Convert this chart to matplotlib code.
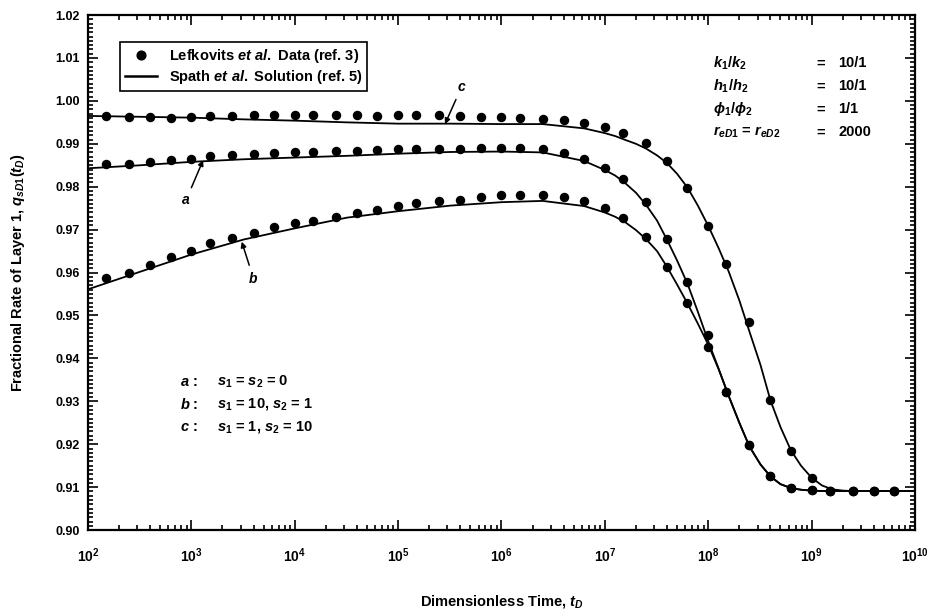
import matplotlib

matplotlib.use("Agg")

import matplotlib.pyplot as plt
from matplotlib.lines import Line2D
from matplotlib.ticker import LogLocator, MultipleLocator, FormatStrFormatter, NullFormatter

plt.rcParams["font.family"] = ["Liberation Sans", "DejaVu Sans"]
plt.rcParams["font.weight"] = "bold"
plt.rcParams["axes.labelweight"] = "bold"
plt.rcParams["mathtext.fontset"] = "custom"
plt.rcParams["mathtext.rm"] = "Liberation Sans:bold"
plt.rcParams["mathtext.it"] = "Liberation Sans:italic:bold"
plt.rcParams["mathtext.bf"] = "Liberation Sans:bold"

# Lefkovits et al. data points
pts_t = [1.5e2, 2.5e2, 4e2, 6.3e2, 1e3, 1.5e3, 2.5e3, 4e3, 6.3e3, 1e4,
         1.5e4, 2.5e4, 4e4, 6.3e4, 1e5, 1.5e5, 2.5e5, 4e5, 6.3e5, 1e6,
         1.5e6, 2.5e6, 4e6, 6.3e6, 1e7, 1.5e7, 2.5e7, 4e7, 6.3e7, 1e8,
         1.5e8, 2.5e8, 4e8, 6.3e8, 1e9, 1.5e9, 2.5e9, 4e9, 6.3e9]
pts_a = [0.98528, 0.98528, 0.98567, 0.98621, 0.98637, 0.98715, 0.98738, 0.98754, 0.98792, 0.98800,
         0.98800, 0.98831, 0.98838, 0.98854, 0.98877, 0.98877, 0.98877, 0.98877, 0.98900, 0.98900,
         0.98900, 0.98890, 0.98777, 0.98638, 0.98442, 0.98178, 0.97650, 0.96774, 0.95772, 0.94544,
         0.93222, 0.91988, 0.91258, 0.90986, 0.90932, 0.9091, 0.9091, 0.9091, 0.9091]
pts_b = [0.95865, 0.95981, 0.96175, 0.96354, 0.96509, 0.96680, 0.96812, 0.96928, 0.97053, 0.97146,
         0.97208, 0.97286, 0.97379, 0.97456, 0.97560, 0.97610, 0.97660, 0.97700, 0.97750, 0.97800,
         0.97810, 0.97810, 0.97752, 0.97666, 0.97496, 0.97263, 0.96834, 0.96135, 0.95282, 0.94264,
         0.93222, 0.91988, 0.91258, 0.90986, 0.90932, 0.9091, 0.9091, 0.9091, 0.9091]
pts_c = [0.99654, 0.99630, 0.99616, 0.99607, 0.99616, 0.99646, 0.99654, 0.99677, 0.99677, 0.99677,
         0.99677, 0.99670, 0.99677, 0.99654, 0.99670, 0.99670, 0.99670, 0.99654, 0.99631, 0.99631,
         0.99593, 0.99576, 0.99553, 0.99491, 0.99398, 0.99242, 0.99010, 0.98598, 0.97976, 0.97090,
         0.96191, 0.94854, 0.93029, 0.91848, 0.91219, 0.90916, 0.9091, 0.9091, 0.9091]

# Spath et al. solution curves
curve_t = [1e2, 3.2e2, 1e3, 3.2e3, 1e4, 3.2e4, 1e5, 3.2e5, 1e6, 2.5e6,
           6.3e6, 1e7, 1.26e7, 1.58e7, 2e7, 2.5e7, 3.2e7, 4e7, 5e7, 6.3e7,
           7.9e7, 1e8, 1.26e8, 1.58e8, 2e8, 2.5e8, 3.2e8, 4e8, 5e8, 6.3e8,
           7.9e8, 1e9, 1.26e9, 1.58e9, 2e9, 2.5e9, 4e9, 1e10]
curve_a = [0.9843, 0.9850, 0.9858, 0.9864, 0.9868, 0.9872, 0.9877, 0.9881, 0.9882, 0.9880,
           0.9860, 0.9839, 0.9826, 0.9808, 0.9786, 0.9758, 0.9721, 0.9676, 0.9628, 0.9574,
           0.9510, 0.9440, 0.9376, 0.9312, 0.9250, 0.9195, 0.9153, 0.9125, 0.9107, 0.9098,
           0.9094, 0.9092, 0.9091, 0.9091, 0.9091, 0.9091, 0.9091, 0.9091]
curve_b = [0.9561, 0.9602, 0.9642, 0.9677, 0.9703, 0.9728, 0.9743, 0.9756, 0.9764, 0.9767,
           0.9755, 0.9740, 0.9730, 0.9717, 0.9699, 0.9678, 0.9650, 0.9613, 0.9572, 0.9528,
           0.9482, 0.9432, 0.9375, 0.9312, 0.9250, 0.9195, 0.9153, 0.9125, 0.9107, 0.9098,
           0.9094, 0.9092, 0.9091, 0.9091, 0.9091, 0.9091, 0.9091, 0.9091]
curve_c = [0.9965, 0.9963, 0.9961, 0.9957, 0.9954, 0.9950, 0.9947, 0.9947, 0.9946, 0.9946,
           0.9936, 0.9925, 0.9918, 0.9909, 0.9900, 0.9889, 0.9873, 0.9855, 0.9830, 0.9798,
           0.9757, 0.9709, 0.9657, 0.9602, 0.9535, 0.9463, 0.9385, 0.9302, 0.9240, 0.9186,
           0.9150, 0.9122, 0.9104, 0.9095, 0.9092, 0.9091, 0.9091, 0.9091]

param_names = [r"$k_1/k_2$", r"$h_1/h_2$", r"$\phi_1/\phi_2$", r"$r_{eD1}$ = $r_{eD2}$"]
param_values = ["10/1", "10/1", "1/1", "2000"]
case_names = [r"$a$ :", r"$b$ :", r"$c$ :"]
case_skins = [r"$s_1$ = $s_2$ = 0", r"$s_1$ = 10, $s_2$ = 1", r"$s_1$ = 1, $s_2$ = 10"]
decades = [1e2, 1e3, 1e4, 1e5, 1e6, 1e7, 1e8, 1e9, 1e10]


def main():
    fig = plt.figure(figsize=(9.31, 6.10), dpi=100)
    ax = fig.add_axes([0.0945, 0.131, 0.8883, 0.8443])

    for ys in (curve_a, curve_b, curve_c):
        ax.plot(curve_t, ys, color="black", lw=1.3, zorder=2)
    for ys in (pts_a, pts_b, pts_c):
        ax.plot(pts_t, ys, "o", color="black", ms=5.8, zorder=3)

    ax.set_xscale("log")
    ax.set_xlim(1e2, 1e10)
    ax.set_ylim(0.90, 1.02)

    ax.set_xticks(decades)
    ax.xaxis.set_minor_locator(LogLocator(base=10, subs=range(2, 10), numticks=20))
    ax.xaxis.set_minor_formatter(NullFormatter())
    ax.yaxis.set_major_locator(MultipleLocator(0.01))
    ax.yaxis.set_minor_locator(MultipleLocator(0.001))
    ax.yaxis.set_major_formatter(FormatStrFormatter("%.2f"))

    ax.tick_params(which="both", direction="in", top=True, right=True, width=1.2, labelsize=9)
    ax.tick_params(which="minor", labelbottom=False, labelleft=False)
    ax.tick_params(axis="x", which="major", pad=12, labelsize=10)
    ax.tick_params(axis="y", which="major", pad=6)
    ax.tick_params(which="major", length=7)
    ax.tick_params(which="minor", length=3.5)
    for sp in ax.spines.values():
        sp.set_linewidth(1.6)

    ax.set_xlabel(r"Dimensionless Time, $t_D$", fontsize=10.5, labelpad=20)
    ax.set_ylabel(r"Fractional Rate of Layer 1, $q_{sD1}(t_D)$", fontsize=10.5, labelpad=20)

    handles = [
        Line2D([], [], ls="none", marker="o", color="black", ms=6.3),
        Line2D([], [], color="black", lw=1.8),
    ]
    labels = [r"Lefkovits $et\ al.$ Data (ref. 3)", r"Spath $et\ al.$ Solution (ref. 5)"]
    leg = ax.legend(handles, labels, loc="upper left", bbox_to_anchor=(0.0387, 0.948),
                    borderaxespad=0, fancybox=False, edgecolor="black", fontsize=10.5,
                    handlelength=2.2, labelspacing=0.2, borderpad=0.35, framealpha=1)
    leg.get_frame().set_linewidth(1.2)

    arrow = dict(arrowstyle="-|>", color="black", lw=1.1, mutation_scale=8, shrinkA=2, shrinkB=0)
    ax.annotate(r"$a$", xy=(1.3e3, 0.9862), xytext=(8.9e2, 0.9769), fontsize=10,
                ha="center", va="center", arrowprops=arrow)
    ax.annotate(r"$b$", xy=(3.07e3, 0.9672), xytext=(3.98e3, 0.9587), fontsize=10,
                ha="center", va="center", arrowprops=arrow)
    ax.annotate(r"$c$", xy=(2.84e5, 0.9946), xytext=(4.1e5, 1.0032), fontsize=10,
                ha="center", va="center", arrowprops=arrow)

    for i, (name, val) in enumerate(zip(param_names, param_values)):
        y = 0.906 - i * 0.0445
        ax.text(0.756, y, name, transform=ax.transAxes, fontsize=10.5, va="center")
        ax.text(0.886, y, "=", transform=ax.transAxes, fontsize=10.5, va="center", ha="center")
        ax.text(0.907, y, val, transform=ax.transAxes, fontsize=10.5, va="center")

    for i, (name, skin) in enumerate(zip(case_names, case_skins)):
        y = 0.288 - i * 0.0437
        ax.text(0.111, y, name, transform=ax.transAxes, fontsize=10.5, va="center")
        ax.text(0.156, y, skin, transform=ax.transAxes, fontsize=10.5, va="center")

    fig.savefig("out.png", dpi=100)
    plt.close(fig)


if __name__ == "__main__":
    main()
